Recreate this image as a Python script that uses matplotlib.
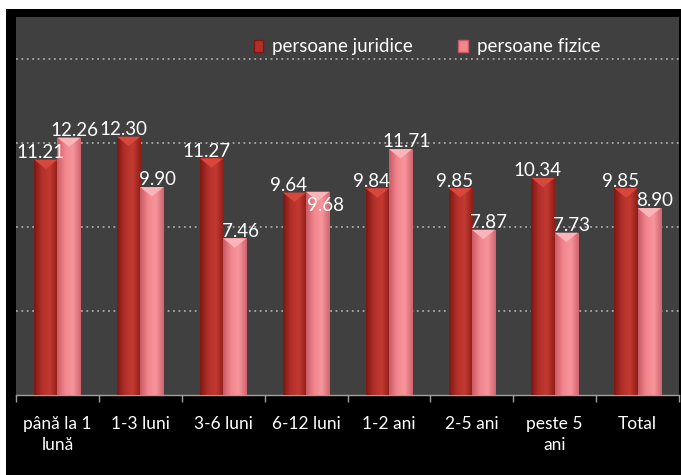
import matplotlib
matplotlib.use("Agg")
import matplotlib.pyplot as plt
from matplotlib.colors import LinearSegmentedColormap
from matplotlib.patches import Patch, Rectangle
import numpy as np

plt.rcParams['font.family'] = ['Lato', 'DejaVu Sans']

# data
categories = ["până la 1\nlună", "1-3 luni", "3-6 luni", "6-12 luni",
              "1-2 ani", "2-5 ani", "peste 5\nani", "Total"]
juridice = [11.21, 12.30, 11.27, 9.64, 9.84, 9.85, 10.34, 9.85]
fizice = [12.26, 9.90, 7.46, 9.68, 11.71, 7.87, 7.73, 8.90]
series_names = ["persoane juridice", "persoane fizice"]

fig = plt.figure(figsize=(6.81, 4.75), dpi=100, facecolor='white')
# black frame behind the chart
fig.patches.append(Rectangle((6 / 681, 0), 1, 466 / 475, transform=fig.transFigure,
                             facecolor='black', edgecolor='none', zorder=-5))
ax = fig.add_axes([16 / 681, 80 / 475, 663 / 681, 378 / 475])
ax.set_zorder(1)
ax.set_facecolor('#404040')

x = np.arange(len(categories))
w = 0.28

red_cmap = LinearSegmentedColormap.from_list('r', ['#7e1712', '#b3302a', '#c23a32', '#8f1d17'])
pink_cmap = LinearSegmentedColormap.from_list('p', ['#c85a64', '#f2868e', '#f7959c', '#d0646e'])

grad = np.linspace(0, 1, 64).reshape(1, -1)


def draw_bars(xpos, vals, cmap, base, cap):
    bars = ax.bar(xpos, vals, w, align='edge', color=base, edgecolor='none', zorder=3)
    for b in bars:
        x0, h, bw = b.get_x(), b.get_height(), b.get_width()
        im = ax.imshow(grad, cmap=cmap, extent=[x0, x0 + bw, 0, h], aspect='auto',
                       zorder=3.1, interpolation='bicubic')
        im.set_clip_path(b)
        # bevelled top
        ax.fill([x0, x0 + bw, x0 + bw / 2], [h, h, h - 0.45], color=cap, zorder=3.2, lw=0)
    return bars


draw_bars(x - w, juridice, red_cmap, '#b3302a', '#d9463c')
draw_bars(x, fizice, pink_cmap, '#f2868e', '#fbb5ba')

for xi, v in zip(x, juridice):
    ax.annotate(f"{v:.2f}", (xi - w / 2, v), xytext=(-4, -1), textcoords='offset points',
                ha='center', va='bottom', color='white', fontsize=13.5, zorder=5)
for xi, v, vj in zip(x, fizice, juridice):
    # when both bars are nearly equal the label sits lower, as in the reference
    dx, dy = (6, -16) if abs(v - vj) < 0.2 else (4, -1)
    ax.annotate(f"{v:.2f}", (xi + w / 2, v), xytext=(dx, dy), textcoords='offset points',
                ha='center', va='bottom', color='white', fontsize=13.5, zorder=5)

ax.set_xlim(-0.5, 7.46)
ax.set_ylim(0, 18)
ax.set_yticks([4, 8, 12, 16])
ax.yaxis.grid(True, color='#a8a8a8', linestyle=(0, (1, 2)), linewidth=1.3)
ax.set_axisbelow(True)
ax.tick_params(axis='y', left=False, labelleft=False)

ax.set_xticks(x)
ax.set_xticklabels(categories, color='white', fontsize=12.5, linespacing=1.4)
ax.set_xticks(np.arange(-0.5, 8, 1), minor=True)
ax.tick_params(axis='x', which='major', length=0, pad=15)
ax.tick_params(axis='x', which='minor', length=5, color='#a0a0a0', width=1)

for s in ['top', 'right', 'left']:
    ax.spines[s].set_visible(False)
ax.spines['bottom'].set_color('#a0a0a0')
ax.spines['bottom'].set_linewidth(1)

handles = [Patch(facecolor='#b3302a', edgecolor='#7e1712'),
           Patch(facecolor='#f2868e', edgecolor='#c85a64')]
leg = ax.legend(handles, series_names, loc='center', bbox_to_anchor=(0.62, 0.921),
                ncol=2, frameon=False, fontsize=13.5, handlelength=0.5, handleheight=0.65,
                handletextpad=0.5, columnspacing=2.4, labelcolor='white')

fig.savefig('out.png', dpi=100, facecolor=fig.get_facecolor())
